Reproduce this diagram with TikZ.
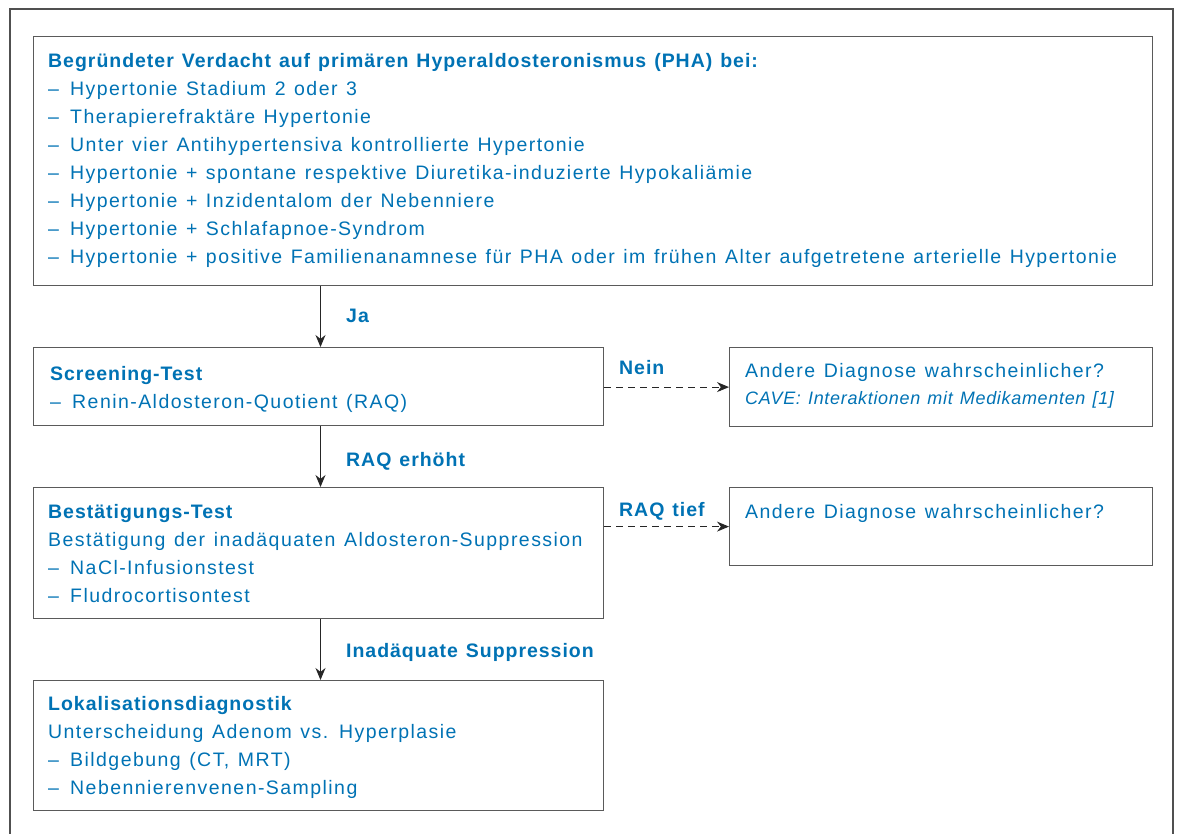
\documentclass[tikz,border=0pt]{standalone}
\usepackage{fontspec}
\setmainfont{Liberation Sans}[LetterSpace=7.4,WordSpace=1.25,BoldFeatures={LetterSpace=5.0},ItalicFeatures={LetterSpace=3.8}]
\usetikzlibrary{arrows.meta}
\definecolor{txtblue}{RGB}{0,114,180}
\definecolor{boxgray}{RGB}{90,90,90}
\definecolor{framegray}{RGB}{80,80,80}
\newcommand{\itm}{\makebox[22pt][l]{–}}
\begin{document}
\begin{tikzpicture}[x=1pt,y=-1pt,
 box/.style={draw=boxgray, line width=1.2pt, inner sep=0pt, anchor=north west},
 txt/.style={inner sep=0pt, anchor=north west, align=left, text=txtblue, font=\fontsize{19.5}{28}\selectfont},
 lbl/.style={inner sep=0pt, anchor=base west, text=txtblue, font=\fontsize{19.5}{28}\selectfont\bfseries},
 arr/.style={-{Stealth[length=12pt,width=10pt]}, line width=1pt, draw=black!85},
 darr/.style={arr, dash pattern=on 7pt off 5pt}]
\useasboundingbox (0,0) rectangle (1179,834);
\draw[framegray, line width=1.5pt] (10,834) -- (10,9) -- (1173,9) -- (1173,834);
% boxes
\node[box, minimum width=1119pt, minimum height=249pt] (top) at (33,36) {};
\node[box, minimum width=570pt, minimum height=78pt] (scr) at (33,347) {};
\node[box, minimum width=423pt, minimum height=79pt] (nein) at (729,347) {};
\node[box, minimum width=570pt, minimum height=131pt] (best) at (33,487) {};
\node[box, minimum width=423pt, minimum height=78pt] (tief) at (729,487) {};
\node[box, minimum width=570pt, minimum height=130pt] (lok) at (33,680) {};
% texts
\node[txt] (toptxt) at (48,47.4) {\strut\textbf{Begründeter Verdacht auf primären Hyperaldosteronismus (PHA) bei:}\\
\itm Hypertonie Stadium 2 oder 3\\
\itm Therapierefraktäre Hypertonie\\
\itm Unter vier Antihypertensiva kontrollierte Hypertonie\\
\itm Hypertonie + spontane respektive Diuretika-induzierte Hypokaliämie\\
\itm Hypertonie + Inzidentalom der Nebenniere\\
\itm Hypertonie + Schlafapnoe-Syndrom\\
\itm Hypertonie + positive Familienanamnese für PHA oder im frühen Alter aufgetretene arterielle Hypertonie};
\node[txt] (scrtxt) at (50,360.4) {\strut\textbf{Screening-Test}\\
\itm Renin-Aldosteron-Quotient (RAQ)};
\node[txt] (besttxt) at (48,498.4) {\strut\textbf{Bestätigungs-Test}\\
Bestätigung der inadäquaten Aldosteron-Suppression\\
\itm NaCl-Infusionstest\\
\itm Fludrocortisontest};
\node[txt] (loktxt) at (48,690.4) {\strut\textbf{Lokalisationsdiagnostik}\\
Unterscheidung Adenom vs. Hyperplasie\\
\itm Bildgebung (CT, MRT)\\
\itm Nebennierenvenen-Sampling};
\node[txt, anchor=base west] (neintxt) at (745,378) {Andere Diagnose wahrscheinlicher?};
\node[txt, anchor=base west, font=\fontsize{18}{22}\selectfont\itshape] (cave) at (745,405) {CAVE: Interaktionen mit Medikamenten [1]};
\node[txt, anchor=base west] (tieftxt) at (745,518) {Andere Diagnose wahrscheinlicher?};
% connectors
\coordinate (ax) at (320.5,0);
\draw[arr] (top.south -| ax) -- (scr.north -| ax);
\draw[arr] (scr.south -| ax) -- (best.north -| ax);
\draw[arr] (best.south -| ax) -- (lok.north -| ax);
\draw[darr] (scr.east |- nein.west) -- (nein.west);
\draw[darr] (best.east |- tief.west) -- (tief.west);
% labels
\node[lbl] (lja) at (346,323) {Ja};
\node[lbl] (lnein) at (619,375) {Nein};
\node[lbl] (lerh) at (346,466) {RAQ erhöht};
\node[lbl] (ltief) at (619,516) {RAQ tief};
\node[lbl] (lsupp) at (346,657) {Inadäquate Suppression};
\end{tikzpicture}
\end{document}
